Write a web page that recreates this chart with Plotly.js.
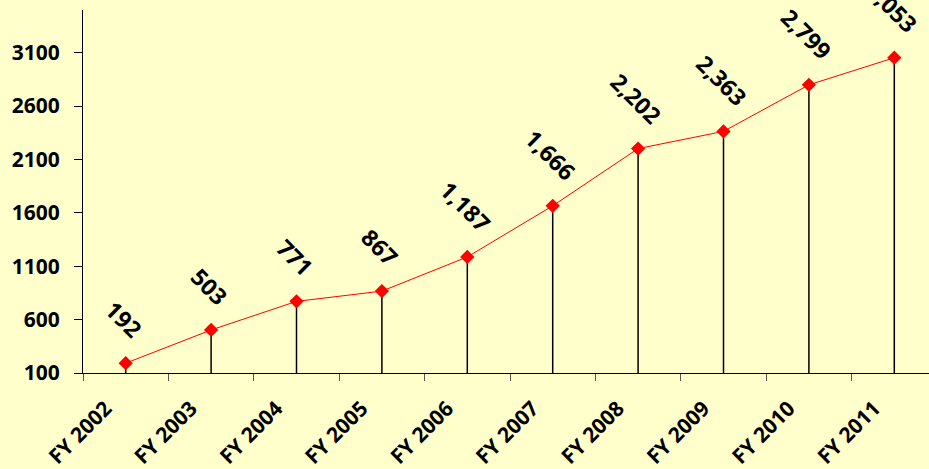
<!DOCTYPE html>
<html>
<head>
<meta charset="utf-8">
<script src="https://cdn.plot.ly/plotly-3.0.1.min.js"></script>
<style>
html, body { margin:0; padding:0; overflow:hidden; background:#FFFFCC; }
#chart { width:940px; height:469px; }
</style>
</head>
<body>
<div id="chart"></div>
<script>
const categories = ["FY 2002","FY 2003","FY 2004","FY 2005","FY 2006","FY 2007","FY 2008","FY 2009","FY 2010","FY 2011"];
const values = [192, 503, 771, 867, 1187, 1666, 2202, 2363, 2799, 3053];
const valueLabels = ["192","503","771","867","1,187","1,666","2,202","2,363","2,799","3,053"];
const yAxisMin = 100;

const fontFamily = '"Open Sans", "DejaVu Sans", sans-serif';

const trace = {
  type: 'scatter',
  mode: 'lines+markers',
  x: categories,
  y: values,
  line: { color: '#FF0000', width: 1 },
  marker: { symbol: 'diamond', size: 11, color: '#FF0000' },
  error_y: {
    type: 'data',
    symmetric: false,
    array: values.map(() => 0),
    arrayminus: values.map(v => v - yAxisMin),
    width: 0,
    thickness: 1.5,
    color: '#000000'
  },
  hoverinfo: 'skip'
};

const annotations = categories.map((c, i) => ({
  x: c, y: values[i],
  text: valueLabels[i],
  showarrow: false,
  textangle: 45,
  yanchor: 'bottom',
  xanchor: 'center',
  yshift: 16,
  xshift: -2,
  font: { family: fontFamily, size: 23, color: '#000000', weight: 700 }
}));

const layout = {
  width: 940, height: 469,
  margin: { l: 83, r: 3, t: 10, b: 96 },
  paper_bgcolor: '#FFFFCC',
  plot_bgcolor: '#FFFFCC',
  showlegend: false,
  xaxis: {
    type: 'category',
    range: [-0.5, 9.5],
    showgrid: false,
    zeroline: false,
    showline: true,
    linecolor: '#000000',
    linewidth: 1,
    ticks: 'outside',
    tickson: 'boundaries',
    ticklen: 7,
    tickcolor: '#555555',
    tickangle: -45,
    ticklabelstandoff: 14,
    ticklabelshift: -20,
    tickfont: { family: fontFamily, size: 21, color: '#000000', weight: 700 }
  },
  yaxis: {
    range: [100, 3500],
    tick0: 100,
    dtick: 500,
    showgrid: false,
    zeroline: false,
    showline: true,
    linecolor: '#000000',
    linewidth: 1,
    ticks: 'outside',
    ticklen: 8,
    tickcolor: '#000000',
    ticklabelstandoff: 10,
    tickfont: { family: fontFamily, size: 21, color: '#000000', weight: 700 }
  },
  annotations: annotations
};

Plotly.newPlot('chart', [trace], layout, { staticPlot: true, displayModeBar: false });
</script>
</body>
</html>
